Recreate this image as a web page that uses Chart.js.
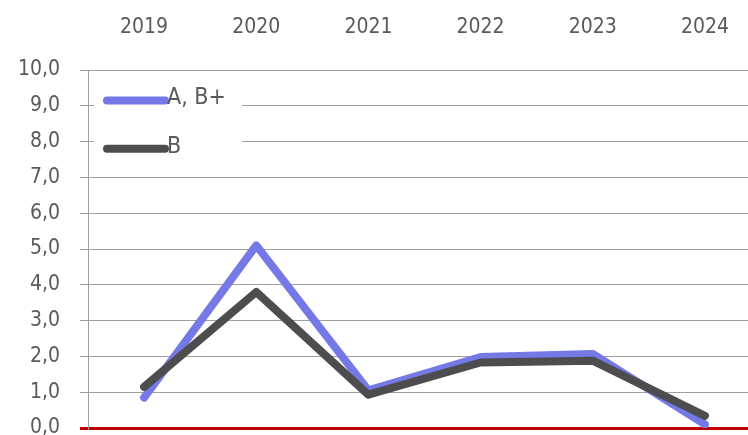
<!DOCTYPE html>
<html>
<head>
<meta charset="utf-8">
<script src="https://cdn.jsdelivr.net/npm/chart.js@4"></script>
<style>
  html, body { margin: 0; padding: 0; background: #fff; overflow: hidden; }
  #wrap { width: 748px; height: 435px; overflow: hidden; }
  /* plot runs a little past the right edge, as in the original crop */
  #box { width: 761px; height: 435px; }
</style>
</head>
<body>
<div id="wrap"><div id="box"><canvas id="chart"></canvas></div></div>
<script>
const years = ['2019', '2020', '2021', '2022', '2023', '2024'];
const seriesAB = [0.85, 5.1, 1.05, 1.98, 2.07, 0.1];
const seriesB = [1.15, 3.8, 0.93, 1.83, 1.88, 0.34];
const seriesNames = ['A, B+', 'B'];
const seriesColors = ['#7479e6', '#4d4d4f'];

const FONT = "'DejaVu Sans Condensed', 'Liberation Sans Narrow', sans-serif";
const TEXT = '#5a5a5a';
const GRID = '#a0a0a0';

// legend sits inside the plot, on a white patch over the gridlines
const insideLegend = {
    id: 'inside_legend',
    beforeDatasetsDraw: chart => {
        const ctx = chart.ctx;
        const x = chart.scales.x;
        const y = chart.scales.y;
        const left = x.left;
        ctx.save();
        ctx.fillStyle = '#fff';
        ctx.fillRect(left + 6, y.getPixelForValue(9.7), 148, y.getPixelForValue(7.3) - y.getPixelForValue(9.7));
        const rows = [y.getPixelForValue(9.15), y.getPixelForValue(7.8)];
        for (let i = 0; i < seriesNames.length; i++) {
            ctx.strokeStyle = seriesColors[i];
            ctx.lineWidth = 8;
            ctx.lineCap = 'round';
            ctx.beginPath();
            ctx.moveTo(left + 19, rows[i]);
            ctx.lineTo(left + 77, rows[i]);
            ctx.stroke();
            ctx.fillStyle = TEXT;
            ctx.font = '23px ' + FONT;
            ctx.textBaseline = 'middle';
            ctx.textAlign = 'left';
            ctx.fillText(seriesNames[i], left + 79, rows[i] - 2);
        }
        ctx.restore();
    },
};

new Chart(document.getElementById('chart'), {
    type: 'line',
    data: {
        labels: years,
        datasets: [
            {
                label: seriesNames[0],
                data: seriesAB,
                borderColor: seriesColors[0],
                order: 1,
            },
            {
                label: seriesNames[1],
                data: seriesB,
                borderColor: seriesColors[1],
                order: 0,
            },
        ],
    },
    options: {
        responsive: true,
        maintainAspectRatio: false,
        animation: false,
        layout: { padding: { left: 0, right: 0, top: 0, bottom: 7 } },
        elements: {
            line: { borderWidth: 8, tension: 0, borderCapStyle: 'round', borderJoinStyle: 'round', fill: false },
            point: { radius: 0, hoverRadius: 0 },
        },
        plugins: {
            legend: { display: false },
            tooltip: { enabled: false },
        },
        scales: {
            x: {
                position: 'top',
                offset: true,
                grid: { display: false },
                border: { display: false },
                ticks: { color: TEXT, font: { family: FONT, size: 21 }, padding: 22, maxRotation: 0 },
                afterFit: scale => { scale.height = 70; },
            },
            y: {
                min: 0,
                max: 10,
                ticks: {
                    stepSize: 1,
                    color: TEXT,
                    padding: 20,
                    font: { family: FONT, size: 21 },
                    callback: v => v.toFixed(1).replace('.', ','),
                },
                grid: {
                    color: c => (c.tick && c.tick.value === 0 ? '#c00000' : GRID),
                    lineWidth: c => (c.tick && c.tick.value === 0 ? 3 : 1),
                    tickLength: 8,
                },
                border: { display: true, color: GRID },
                afterFit: scale => {
                    scale.width = 88;
                    scale.paddingTop = 0;
                    scale.paddingBottom = 0;
                },
            },
        },
    },
    plugins: [insideLegend],
});
</script>
</body>
</html>
